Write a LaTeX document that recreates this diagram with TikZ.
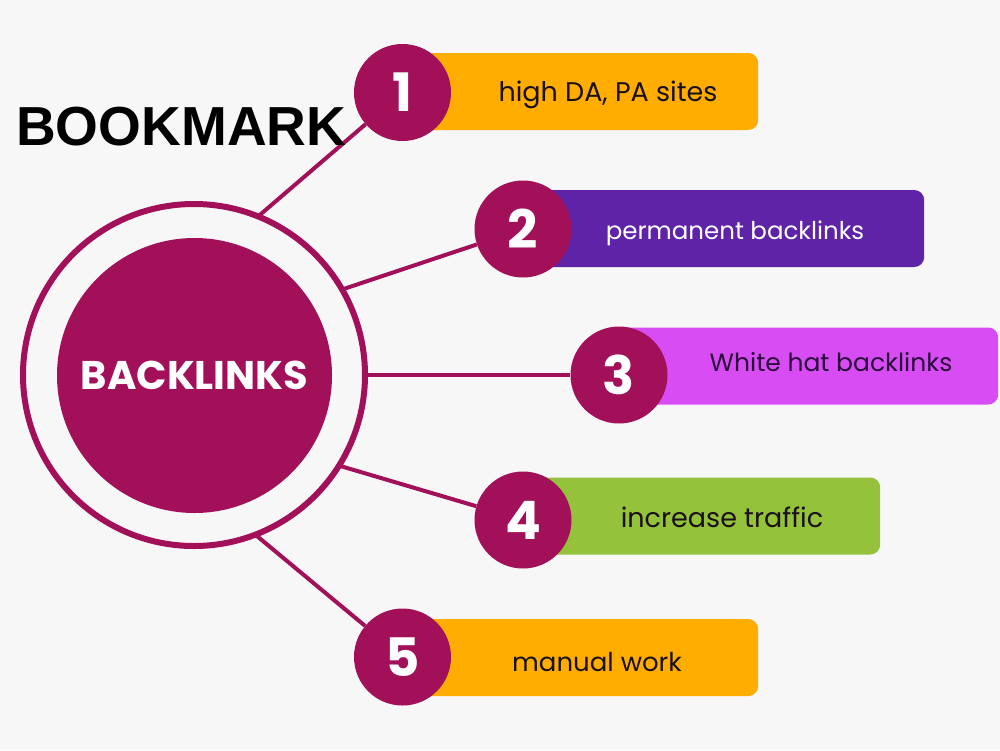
\documentclass[tikz,border=0pt]{standalone}
\usepackage{fontspec}
\setmainfont{Poppins}
\setsansfont{Liberation Sans}
\definecolor{bg}{HTML}{F7F7F7}
\definecolor{mag}{HTML}{A3105A}
\definecolor{orng}{HTML}{FFAD00}
\definecolor{purp}{HTML}{5F23A8}
\definecolor{pink}{HTML}{D84DF3}
\definecolor{grn}{HTML}{94C23B}
\definecolor{ink}{HTML}{1A1016}
\definecolor{ink3}{HTML}{2A0A3A}
\begin{document}
\begin{tikzpicture}[x=1pt,y=-1pt,
  bar/.style={rounded corners=10pt, minimum height=77pt, inner sep=0pt, anchor=west},
  num/.style={circle, fill=mag, minimum size=97pt, inner sep=0pt, text=white,
    font=\fontsize{53}{53}\selectfont\bfseries},
  lab/.style={anchor=base, inner sep=0pt, font=\fontsize{#1}{30}\selectfont},
  lab/.default=25,
  link/.style={draw=mag, line width=4pt}]
\fill[bg] (0,0) rectangle (1000,750);
\useasboundingbox (0,0) rectangle (1000,750);

% bars
\node[bar, fill=orng, minimum width=356pt] (bar1) at (402,91.5) {};
\node[bar, fill=purp, minimum width=401pt] (bar2) at (523,228.5) {};
\node[bar, fill=pink, minimum width=379pt] (bar3) at (619,366) {};
\node[bar, fill=grn, minimum width=357pt] (bar4) at (523,516) {};
\node[bar, fill=orng, minimum width=356pt] (bar5) at (402,657.5) {};

% labels
\node[lab=27, text=ink] (t1) at (608,101) {high DA, PA sites};
\node[lab=24.5, text=white] (t2) at (735,239.5) {permanent backlinks};
\node[lab=25, text=ink3] (t3) at (831,371) {White hat backlinks};
\node[lab=27, text=ink] (t4) at (722,527) {increase traffic};
\node[lab=26, text=ink] (t5) at (597,671) {manual work};

% number circles
\node[num] (n1) at (402.5,92.5) {1};
\node[num] (n2) at (523,229) {2};
\node[num] (n3) at (619,375) {3};
\node[num] (n4) at (523,520) {4};
\node[num] (n5) at (402.5,657) {5};

% hub
\node[circle, draw=mag, line width=6pt, minimum size=342pt, inner sep=0pt, outer sep=0pt] (ring) at (194,375) {};
\node[circle, fill=mag, minimum size=275pt, inner sep=0pt, text=white,
  font=\fontsize{40}{40}\selectfont\bfseries] (core) at (194.5,375.5) {BACKLINKS};

% connectors
\draw[link] (ring.68) -- (n1);
\draw[link] (ring.30) -- (n2);
\draw[link] (ring.0) -- (n3);
\draw[link] (ring.-32) -- (n4);
\draw[link] (ring.-69) -- (n5);

% title
\node[anchor=base west, inner sep=0pt, font=\sffamily\bfseries\fontsize{55}{55}\selectfont] (title) at (16,145) {BOOKMARK};
\end{tikzpicture}
\end{document}
